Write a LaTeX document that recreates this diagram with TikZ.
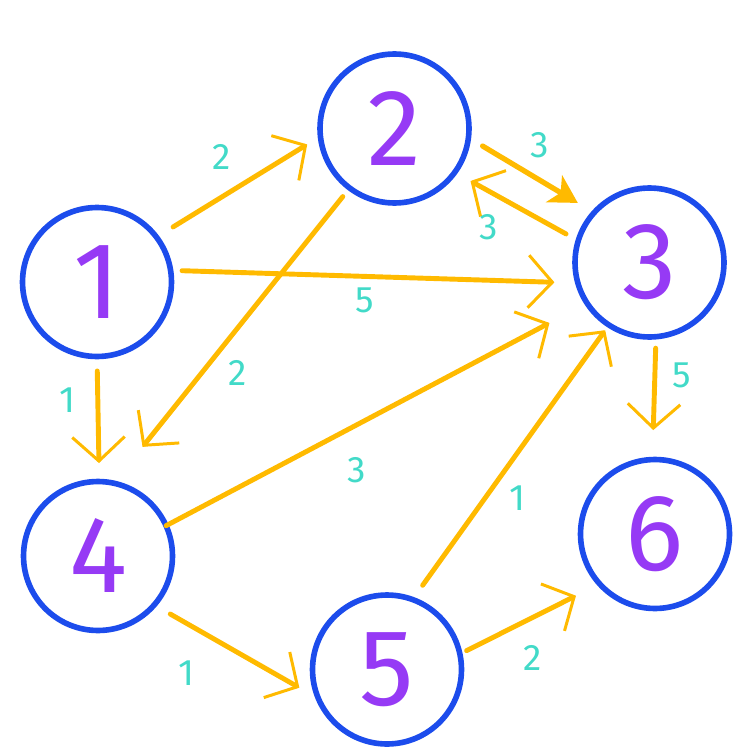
\documentclass[tikz,border=0pt]{standalone}
\usepackage{fontspec}
\setmainfont{Fira Sans}
\usetikzlibrary{arrows.meta}
\definecolor{ringblue}{RGB}{28,76,236}
\definecolor{digitpurple}{RGB}{150,58,245}
\definecolor{arrowgold}{RGB}{255,186,0}
\definecolor{weightteal}{RGB}{66,218,200}

\begin{document}
\begin{tikzpicture}[x=0.02cm, y=-0.02cm,
    vertex/.style={circle, draw=ringblue, line width=3.2pt, minimum size=2.98cm,
        inner sep=0pt, outer sep=0pt, text=digitpurple, font=\fontsize{62}{62}\selectfont},
    edge/.style={draw=arrowgold, line width=2.8pt, line cap=round,
        -{Straight Barb[length=0.48cm, width=1.05cm, line width=1.7pt]}},
    bigedge/.style={draw=arrowgold, line width=3pt, line cap=round,
        -{Stealth[length=0.55cm, width=0.62cm, inset=0.15cm]}},
    weight/.style={text=weightteal, font=\fontsize{21}{21}\selectfont, inner sep=0pt}]
    \useasboundingbox (0,0) rectangle (750,750);

    % vertices
    \node[vertex] (n1) at (97,282)    {1};
    \node[vertex] (n2) at (394.5,128.5) {2};
    \node[vertex] (n3) at (649.5,262.5) {3};
    \node[vertex] (n4) at (98,556)    {4};
    \node[vertex] (n5) at (387,669.5) {5};
    \node[vertex] (n6) at (655,534)   {6};

    % edges
    \draw[edge, shorten <=0.39cm, shorten >=0.31cm] (n1.37)  -- (n2.186);
    \draw[bigedge, shorten <=0.33cm, shorten >=0.38cm] (n2.353) -- (n3.138);
    \draw[edge, shorten <=0.28cm, shorten >=0.36cm] (n3.163) -- (n2.324);
    \draw[edge, shorten <=0.23cm, shorten >=0.47cm] (n1.9)   -- (n3.196);
    \draw[edge, shorten >=0.85cm]                   (n4.24)  -- (n3.213);
    \draw[edge, shorten <=0.35cm, shorten >=0.13cm] (n5.70)  -- (n3.237);
    \draw[edge, shorten <=0.22cm, shorten >=0.93cm] (n2.233) -- (n4.78);
    \draw[edge, shorten <=0.29cm, shorten >=0.37cm] (n1.270) -- (n4.89);
    \draw[edge, shorten <=0.23cm, shorten >=0.59cm] (n3.275) -- (n6.92);
    \draw[edge, shorten <=0.37cm, shorten >=0.44cm] (n4.319) -- (n5.203);
    \draw[edge, shorten <=0.15cm, shorten >=0.53cm] (n5.12)  -- (n6.222);

    % weights
    \node[weight] (w12) at (222,157) {2};
    \node[weight] (w23) at (540,145) {3};
    \node[weight] (w32) at (489,227) {3};
    \node[weight] (w13) at (365,300) {5};
    \node[weight] (w24) at (238,373) {2};
    \node[weight] (w14) at (67,400)  {1};
    \node[weight] (w43) at (357,470) {3};
    \node[weight] (w53) at (517,498) {1};
    \node[weight] (w36) at (682,375) {5};
    \node[weight] (w45) at (186,673) {1};
    \node[weight] (w56) at (533,658) {2};
\end{tikzpicture}
\end{document}
